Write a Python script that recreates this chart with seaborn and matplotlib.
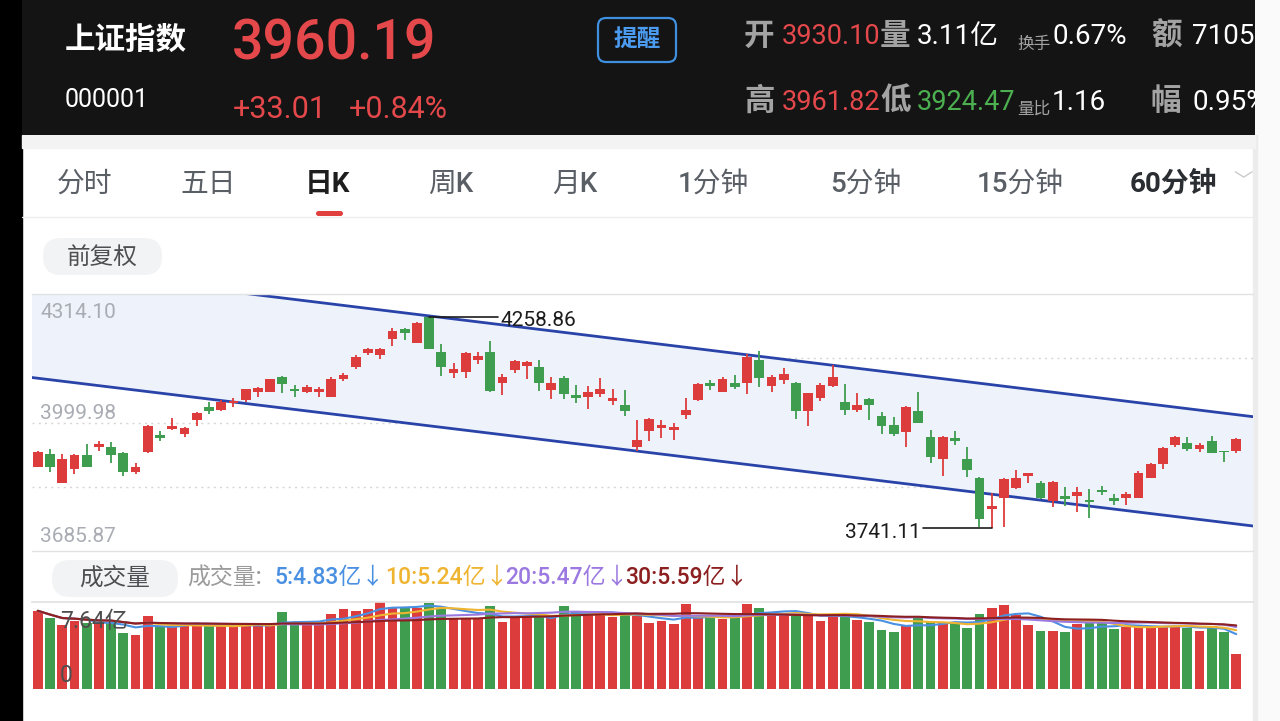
import numpy as np
import pandas as pd
import seaborn as sns
import matplotlib.pyplot as plt
from matplotlib.patches import Rectangle, FancyBboxPatch

# daily candles of 上证指数 (oldest first)
opens = [3891.9, 3923.0, 3852.8, 3885.6, 3921.3, 3939.4, 3939.4, 3926.2, 3879.7, 3928.6,
         3970.2, 3983.4, 3971.1, 4006.1, 4038.6, 4030.5, 4046.9, 4055.0, 4075.3, 4075.3,
         4110.5, 4082.6, 4075.3, 4075.3, 4063.0, 4105.6, 4136.4, 4169.1, 4165.0, 4203.4,
         4228.5, 4193.6, 4257.1, 4173.1, 4120.2, 4124.2, 4152.8, 4173.1, 4097.3, 4128.3,
         4138.1, 4136.4, 4079.4, 4109.5, 4066.5, 4061.6, 4069.6, 4052.5, 4042.8, 3939.4,
         3979.9, 3987.3, 3981.6, 4018.3, 4055.0, 4095.8, 4075.3, 4095.8, 4095.8, 4152.8,
         4089.9, 4103.9, 4097.3, 4028.8, 4059.1, 4089.9, 4050.8, 4030.5, 4057.4, 4016.6,
         3993.9, 3977.5, 4028.8, 3963.8, 3910.0, 3961.4, 3910.0, 3863.6, 3787.8, 3814.7,
         3839.1, 3869.2, 3851.4, 3808.8, 3820.3, 3820.3, 3810.5, 3835.0, 3814.7, 3814.7,
         3814.7, 3865.0, 3898.5, 3945.0, 3949.1, 3934.5, 3954.8, 3930.3, 3930.10]
closes = [3928.6, 3890.5, 3910.8, 3921.3, 3891.9, 3947.4, 3920.5, 3879.7, 3891.9, 3992.2,
          3962.8, 3991.4, 3987.3, 4023.9, 4028.8, 4050.8, 4052.5, 4081.1, 4084.3, 4105.6,
          4094.1, 4077.7, 4086.0, 4081.9, 4105.6, 4115.4, 4159.4, 4178.9, 4178.9, 4224.4,
          4218.0, 4242.5, 4179.7, 4136.4, 4130.8, 4169.1, 4162.5, 4077.7, 4111.9, 4150.3,
          4147.1, 4095.8, 4097.3, 4069.6, 4059.1, 4075.3, 4082.6, 4060.6, 4028.8, 3957.2,
          4007.8, 3993.9, 3988.2, 4030.5, 4094.1, 4089.2, 4106.3, 4087.5, 4160.8, 4108.0,
          4110.5, 4118.5, 4028.8, 4071.4, 4091.7, 4110.5, 4030.5, 4042.8, 4042.8, 3991.4,
          3971.1, 4037.1, 3998.0, 3916.4, 3965.3, 3955.5, 3883.9, 3763.4, 3795.9, 3861.1,
          3863.6, 3875.8, 3814.7, 3855.3, 3812.2, 3830.8, 3805.6, 3830.1, 3808.8, 3825.2,
          3877.3, 3898.5, 3938.4, 3965.3, 3934.5, 3945.0, 3926.2, 3927.18, 3960.19]
highs = [3930.3, 3935.2, 3922.2, 3923.0, 3947.4, 3955.5, 3951.6, 3927.9, 3900.2, 3993.9,
         3979.9, 4010.2, 3989.7, 4026.4, 4049.4, 4055.0, 4059.1, 4082.6, 4087.5, 4107.1,
         4114.4, 4091.7, 4091.7, 4087.5, 4110.5, 4120.2, 4165.0, 4181.4, 4182.8, 4230.3,
         4231.7, 4246.4, 4258.86, 4191.9, 4144.7, 4171.6, 4171.6, 4199.9, 4118.5, 4152.8,
         4150.3, 4152.8, 4110.5, 4113.7, 4091.7, 4089.2, 4108.0, 4081.1, 4079.4, 4006.1,
         4010.2, 4006.1, 3998.0, 4059.1, 4097.3, 4103.9, 4110.5, 4116.1, 4166.7, 4174.8,
         4116.1, 4132.5, 4099.7, 4072.8, 4095.8, 4140.5, 4093.4, 4072.8, 4060.6, 4026.4,
         4014.2, 4040.3, 4075.3, 3981.6, 3967.0, 3979.9, 3939.4, 3867.5, 3828.4, 3863.6,
         3883.9, 3877.3, 3857.7, 3857.0, 3843.0, 3843.0, 3836.7, 3844.8, 3825.2, 3830.8,
         3882.2, 3901.7, 3940.8, 3967.0, 3965.3, 3949.1, 3967.0, 3930.3, 3961.82]
lows = [3890.5, 3879.7, 3852.1, 3873.4, 3891.2, 3929.6, 3900.2, 3869.9, 3874.1, 3926.2,
        3955.5, 3981.6, 3965.3, 3991.4, 4020.8, 4028.8, 4038.6, 4050.8, 4061.6, 4074.5,
        4071.4, 4061.6, 4071.4, 4063.0, 4061.6, 4102.2, 4130.0, 4165.0, 4155.2, 4187.0,
        4201.7, 4193.6, 4179.7, 4113.7, 4108.0, 4108.0, 4143.0, 4075.3, 4067.2, 4120.2,
        4105.6, 4077.7, 4056.7, 4056.7, 4046.9, 4033.0, 4061.6, 4042.8, 4015.9, 3931.0,
        3955.5, 3962.8, 3957.2, 4008.5, 4052.5, 4079.4, 4075.3, 4081.1, 4069.6, 4086.0,
        4075.3, 4094.1, 4007.8, 3991.4, 4052.5, 4087.5, 4018.3, 4026.4, 4006.1, 3971.1,
        3967.0, 3939.4, 3998.0, 3900.2, 3869.2, 3945.0, 3867.5, 3743.8, 3741.11, 3743.8,
        3837.4, 3851.4, 3812.2, 3792.7, 3795.9, 3781.9, 3765.8, 3822.8, 3798.3, 3798.3,
        3814.7, 3863.6, 3885.6, 3939.4, 3931.0, 3928.6, 3924.7, 3904.2, 3924.47]
# 成交量, 亿
volumes = [6.87, 6.21, 5.62, 6.00, 5.77, 5.68, 5.91, 4.94, 4.74, 6.44,
           5.56, 5.53, 5.53, 5.71, 5.62, 5.53, 5.53, 5.62, 5.62, 5.62,
           6.73, 5.77, 5.71, 5.77, 6.56, 7.02, 6.87, 7.00, 7.64, 7.17,
           7.14, 7.09, 7.58, 7.14, 6.21, 6.21, 6.21, 7.31, 5.91, 6.21,
           6.35, 6.41, 6.26, 7.31, 6.79, 6.50, 6.73, 6.30, 6.56, 6.44,
           5.77, 6.00, 5.71, 7.44, 6.35, 6.21, 6.12, 6.41, 7.44, 7.14,
           6.50, 6.56, 6.56, 6.56, 6.00, 6.44, 6.44, 6.06, 5.91, 5.18,
           4.98, 5.56, 6.35, 5.91, 5.77, 5.77, 5.38, 6.56, 7.14, 7.38,
           6.50, 5.62, 5.09, 5.09, 4.98, 5.71, 5.82, 5.77, 5.27, 5.47,
           5.53, 5.53, 5.56, 5.47, 5.33, 5.09, 5.53, 5.03, 3.11]

ma_windows = [5, 10, 20, 30]
ma_texts = ["5:4.83亿↓", "10:5.24亿↓", "20:5.47亿↓", "30:5.59亿↓"]
ma_colors = ["#4a90e2", "#efb431", "#9b79e0", "#8c1f1f"]

price_top, price_bottom = 4314.10, 3685.87
vol_top = 7.64
mark_high, mark_low = 4258.86, 3741.11

# descending channel drawn by the user, (candle index, price)
channel_x = [-0.63, 99.37]
channel_upper = [4379.9, 4014.2]
channel_lower = [4110.5, 3747.0]

RED, GREEN = "#dd3c3c", "#3f9d50"

sns.set_theme(style="white")
plt.rcParams["font.family"] = ["Roboto", "Noto Sans CJK SC", "DejaVu Sans"]

df = pd.DataFrame({"i": np.arange(len(opens)), "open": opens, "close": closes,
                   "high": highs, "low": lows, "volume": volumes})
df["dir"] = np.where(df["close"] >= df["open"], "up", "down")
cols = np.where(df["dir"] == "up", RED, GREEN)

W, H = 1280, 721
fig = plt.figure(figsize=(12.8, 7.21), dpi=100)
fig.patch.set_facecolor("white")


def box(x0, y0, x1, y1):
    return [x0 / W, 1 - y1 / H, (x1 - x0) / W, (y1 - y0) / H]


# ---- page chrome ----
ui = fig.add_axes([0, 0, 1, 1], zorder=0)
ui.set_xlim(0, W)
ui.set_ylim(H, 0)
ui.axis("off")
ui.add_patch(Rectangle((0, 0), 22, H, color="black"))
ui.add_patch(Rectangle((1255, 0), 25, H, color="#fafafa"))
ui.add_patch(Rectangle((1253, 135), 4, H, color="#ececec"))
ui.add_patch(Rectangle((22, 135), 1233, 13, color="#f3f3f3"))
ui.plot([22, 1253], [217, 217], color="#ededed", lw=1)

tabs = [("分时", 57), ("五日", 180), ("日K", 305), ("周K", 428), ("月K", 552),
        ("1分钟", 678), ("5分钟", 830), ("15分钟", 977), ("60分钟", 1130)]
for name, x in tabs:
    if name == "日K":
        ui.text(x, 184, name, fontsize=20, color="#1e1e1e", weight="bold", va="center")
    elif name == "60分钟":
        ui.text(x, 184, name, fontsize=20, color="#2a2d31", weight="bold", va="center")
    else:
        ui.text(x, 184, name, fontsize=20, color="#5a5f66", weight="medium", va="center")
ui.text(1243, 182, "﹀", fontsize=14, color="#c9c9c9", ha="center", va="center")
ui.add_patch(FancyBboxPatch((316, 211), 27, 5, boxstyle="round,pad=0,rounding_size=2.5",
                            fc="#e0413f", ec="none"))

ui.add_patch(FancyBboxPatch((43, 238), 119, 37, boxstyle="round,pad=0,rounding_size=18",
                            fc="#f2f3f5", ec="none"))
ui.text(102, 257, "前复权", fontsize=17, color="#4d4f52", weight="medium", ha="center", va="center")
ui.add_patch(FancyBboxPatch((52, 560), 126, 37, boxstyle="round,pad=0,rounding_size=18",
                            fc="#f2f3f5", ec="none"))
ui.text(115, 578, "成交量", fontsize=17, color="#4d4f52", weight="medium", ha="center", va="center")
ui.text(187, 578, "成交量:", fontsize=16.5, color="#9b9b9b", weight="medium", va="center")
for s, c, x in zip(ma_texts, ma_colors, [275, 385, 505, 625]):
    ui.text(x, 578, s, fontsize=16.5, color=c, weight="medium", va="center")

# ---- quote header ----
hd = fig.add_axes(box(22, 0, 1255, 135), zorder=1)
hd.set_xlim(22, 1255)
hd.set_ylim(135, 0)
hd.axis("off")
hd.add_patch(Rectangle((22, 0), 1233, 135, color="#141414"))


def put(x, y, s, size, color, weight="normal"):
    hd.text(x, y, s, fontsize=size, color=color, weight=weight, va="center", clip_on=True)


put(65, 40, "上证指数", 22, "white", "bold")
put(232, 44, "3960.19", 40, "#e5484b", "medium")
put(65, 100, "000001", 18, "white")
put(233, 110, "+33.01", 22, "#e5484b")
put(349, 110, "+0.84%", 22, "#e5484b")
hd.add_patch(FancyBboxPatch((598, 18), 78, 44, boxstyle="round,pad=0,rounding_size=8",
                            fc="none", ec="#3f8fdf", lw=1.6))
hd.text(637, 40, "提醒", fontsize=17, color="#4b9cf0", weight="bold", ha="center", va="center")

LBL = "#a3a3a3"
put(744, 36, "开", 22, LBL, "bold")
put(782, 37, "3930.10", 19.5, "#e5484b")
put(880, 36, "量", 22, LBL, "bold")
put(917, 36, "3.11亿", 20, "white")
put(1017, 44, "换手", 12, LBL)
put(1052, 37, "0.67%", 20, "white")
put(1151, 36, "额", 22, LBL, "bold")
put(1192, 37, "7105", 20, "white")
put(744, 101, "高", 22, LBL, "bold")
put(782, 102, "3961.82", 19.5, "#e5484b")
put(880, 101, "低", 22, LBL, "bold")
put(917, 102, "3924.47", 19.5, "#4cb050")
put(1017, 109, "量比", 12, LBL)
put(1052, 102, "1.16", 20, "white")
put(1151, 101, "幅", 22, LBL, "bold")
put(1192, 102, "0.95%", 20, "white")

# ---- candlestick panel ----
ax = fig.add_axes(box(32, 294, 1253, 551), zorder=2)
ax.set_facecolor("none")
ax.fill_between(channel_x, channel_lower, channel_upper, color="#edf2fb", lw=0, zorder=1)
ax.plot(channel_x, channel_upper, color="#2943a8", lw=2.0, zorder=2)
ax.plot(channel_x, channel_lower, color="#2943a8", lw=2.0, zorder=2)

ax.vlines(df["i"], df["low"], df["high"], colors=cols, lw=1.3, zorder=3)
body_lo = np.minimum(df["open"], df["close"])
body_h = np.maximum((df["close"] - df["open"]).abs(), 4.0)
ax.bar(df["i"], body_h, bottom=body_lo, width=0.8, color=cols, lw=0, zorder=4)

step = (price_top - price_bottom) / 4
ax.set_yticks([price_bottom + step * k for k in (1, 2, 3)])
ax.yaxis.grid(True, linestyle=(0, (1.5, 3)), color="#d6d6d6", lw=1)
ax.xaxis.grid(False)
ax.set_xlim(-0.47, 99.37)
ax.set_ylim(price_bottom, price_top)
ax.tick_params(left=False, bottom=False, labelleft=False, labelbottom=False)
for side in ["left", "right"]:
    ax.spines[side].set_visible(False)
for side in ["top", "bottom"]:
    ax.spines[side].set_color("#e2e2e2")
    ax.spines[side].set_linewidth(1)

lab = dict(xycoords=("axes fraction", "data"), textcoords="offset pixels",
           fontsize=15, color="#a9adb3", va="center", zorder=6)
ax.annotate(f"{price_top:.2f}", xy=(0.0066, price_top), xytext=(0, -19), **lab)
ax.annotate(f"{(price_top + price_bottom) / 2:.2f}".replace("3999.99", "3999.98"),
            xy=(0.0066, (price_top + price_bottom) / 2), xytext=(0, 9), **lab)
ax.annotate(f"{price_bottom:.2f}", xy=(0.0066, price_bottom), xytext=(0, 14), **lab)

i_hi = int(np.argmax(highs))
i_lo = int(np.argmin(lows))
ax.plot([i_hi, i_hi + 5.6], [mark_high, mark_high], color="#1c1c1c", lw=1.2, zorder=5)
ax.annotate(f"{mark_high:.2f}", xy=(i_hi + 5.8, mark_high), xytext=(0, -4),
            textcoords="offset pixels", fontsize=15, color="#1c1c1c", va="center", zorder=6)
ax.plot([i_lo - 5.6, i_lo], [mark_low, mark_low], color="#1c1c1c", lw=1.2, zorder=5)
ax.annotate(f"{mark_low:.2f}", xy=(i_lo - 5.8, mark_low), xytext=(0, -4),
            textcoords="offset pixels", fontsize=15, color="#1c1c1c", va="center",
            ha="right", zorder=6)

# ---- volume panel ----
axv = fig.add_axes(box(32, 602, 1253, 689), zorder=2)
axv.set_facecolor("none")
sns.barplot(data=df, x="i", y="volume", hue="dir", palette={"up": RED, "down": GREEN},
            dodge=False, width=0.8, saturation=1, linewidth=0, errorbar=None,
            legend=False, ax=axv)
ma = pd.concat([pd.DataFrame({"i": df["i"],
                              "v": df["volume"].rolling(w, min_periods=1).mean(),
                              "k": f"MA{w}"}) for w in ma_windows])
sns.lineplot(data=ma, x="i", y="v", hue="k",
             palette={f"MA{w}": c for w, c in zip(ma_windows, ma_colors)},
             lw=1.5, legend=False, ax=axv)
axv.set_xlim(-0.47, 99.37)
axv.set_ylim(0, vol_top)
axv.set_xlabel("")
axv.set_ylabel("")
axv.tick_params(left=False, bottom=False, labelleft=False, labelbottom=False)
for side in ["left", "right", "bottom"]:
    axv.spines[side].set_visible(False)
axv.spines["top"].set_color("#e2e2e2")
vlab = dict(xycoords="axes fraction", textcoords="offset pixels",
            fontsize=16.5, color="#4e4e4e", va="center", zorder=6)
axv.annotate(f"{vol_top:.2f}亿", xy=(0.0229, 1), xytext=(0, -19), **vlab)
axv.annotate("0", xy=(0.0229, 0), xytext=(0, 14), **vlab)

fig.savefig("out.png", dpi=100)
